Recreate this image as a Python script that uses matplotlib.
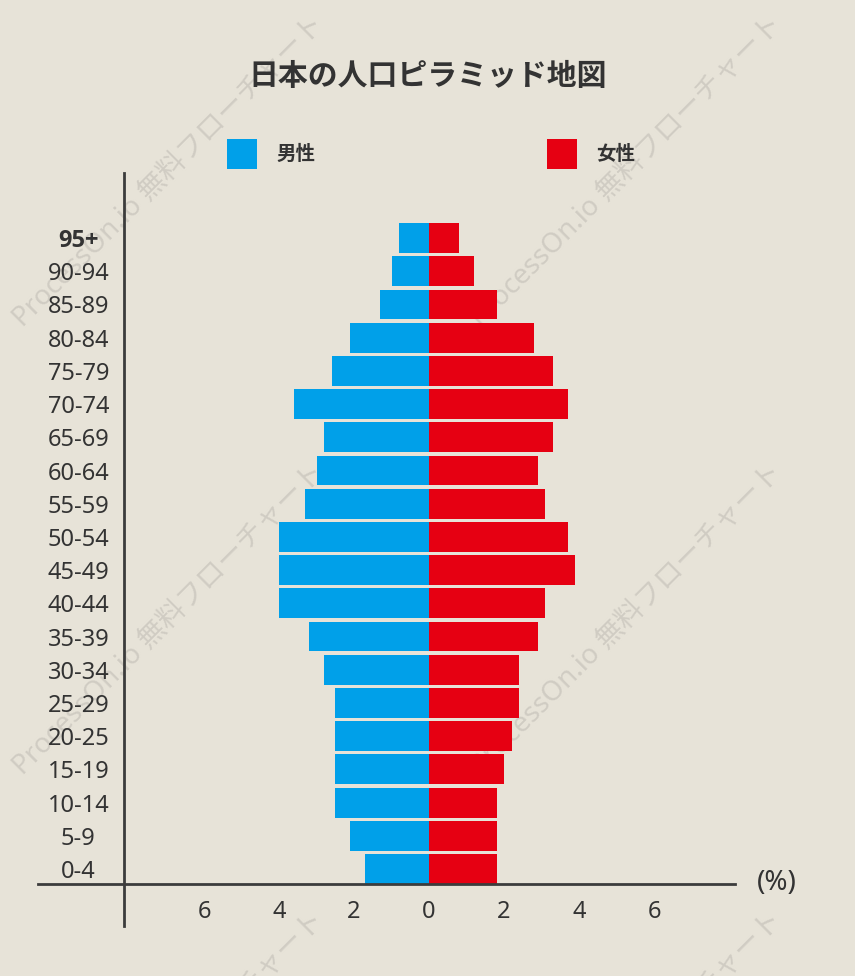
import matplotlib
matplotlib.use("Agg")
import matplotlib.pyplot as plt
import numpy as np

plt.rcParams["font.family"] = ["Noto Sans", "Noto Sans CJK JP", "DejaVu Sans"]

# data (%), ordered bottom (0-4) to top (95+)
age_groups = ["0-4", "5-9", "10-14", "15-19", "20-25", "25-29", "30-34", "35-39",
              "40-44", "45-49", "50-54", "55-59", "60-64", "65-69", "70-74",
              "75-79", "80-84", "85-89", "90-94", "95+"]
male = [1.7, 2.1, 2.5, 2.5, 2.5, 2.5, 2.8, 3.2, 4.0, 4.0, 4.0, 3.3, 3.0, 2.8, 3.6,
        2.6, 2.1, 1.3, 1.0, 0.8]
female = [1.8, 1.8, 1.8, 2.0, 2.2, 2.4, 2.4, 2.9, 3.1, 3.9, 3.7, 3.1, 2.9, 3.3, 3.7,
          3.3, 2.8, 1.8, 1.2, 0.8]
x_ticks = [-6, -4, -2, 0, 2, 4, 6]
x_tick_labels = ["6", "4", "2", "0", "2", "4", "6"]

BG = "#e7e3d8"
BLUE = "#00a0e9"
RED = "#e60012"
TEXT = "#333333"
W, H = 855, 976

fig = plt.figure(figsize=(W / 100, H / 100), dpi=100, facecolor=BG)

# watermark, behind everything
for cx in (170, 628):
    for cy in (172, 620, 1068):
        fig.text(cx / W, 1 - cy / H, "ProcessOn.io 無料フローチャート", rotation=45,
                 rotation_mode="anchor", ha="center", va="center", fontsize=20,
                 color="#d0ccc3", zorder=-1)

ax = fig.add_axes([38 / W, 1 - 926 / H, (735 - 38) / W, (926 - 173) / H])
ax.set_facecolor("none")

y = np.arange(len(age_groups))
b_m = ax.barh(y, -np.array(male), height=0.9, color=BLUE, label="男性")
b_f = ax.barh(y, female, height=0.9, color=RED, label="女性")

ax.set_xlim(-10.43, 8.16)
ax.set_ylim(-1.717, 20.96)

for side in ("top", "right"):
    ax.spines[side].set_visible(False)
ax.spines["left"].set_position(("data", -8.13))
ax.spines["bottom"].set_position(("data", -0.452))
for side in ("left", "bottom"):
    ax.spines[side].set_color("#3c3c3c")
    ax.spines[side].set_linewidth(2)

ax.set_xticks(x_ticks)
ax.set_xticklabels(x_tick_labels)
ax.set_yticks(y)
ax.set_yticklabels(age_groups, ha="center")
ax.tick_params(axis="x", length=0, pad=11.5, labelsize=17, labelcolor=TEXT)
ax.tick_params(axis="y", length=0, pad=33, labelsize=17, labelcolor=TEXT)
for lbl in ax.get_yticklabels():
    if lbl.get_text() == "95+":
        lbl.set_family(["Open Sans", "DejaVu Sans"])
        lbl.set_fontweight("bold")

fig.text(428 / W, 1 - 76 / H, "日本の人口ピラミッド地図", ha="center", va="center",
         fontsize=21.5, fontweight="bold", color=TEXT,
         family=["Noto Sans CJK JP", "DejaVu Sans"])
fig.text(777 / W, 1 - 883 / H, "(%)", ha="center", va="center", fontsize=20,
         color=TEXT)

ax.legend(handles=[b_m, b_f], loc="center", bbox_to_anchor=(431 / W, 1 - 154 / H),
          bbox_transform=fig.transFigure, ncol=2, frameon=False,
          handlelength=1.55, handleheight=2.0, handletextpad=0.98,
          columnspacing=11.9,
          prop={"family": ["Noto Sans CJK JP"], "weight": "bold", "size": 14},
          labelcolor=TEXT)

fig.savefig("out.png", dpi=100, facecolor=BG)
